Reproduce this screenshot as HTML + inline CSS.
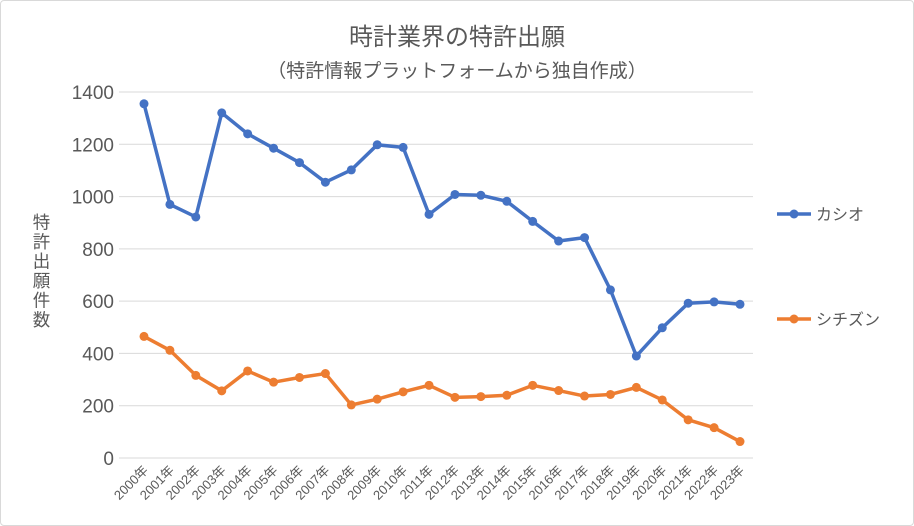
<!DOCTYPE html>
<html><head><meta charset="utf-8">
<style>
body{margin:0;background:#fff;}
#wrap{position:relative;width:912px;height:524px;border:1px solid #d9d9d9;border-radius:4px;overflow:hidden;font-family:"Liberation Sans","Noto Sans CJK JP",sans-serif;}
</style></head>
<body>
<div id="wrap">
<svg id="chart" width="912" height="524"></svg>
</div>
<script>
const years=["2000年","2001年","2002年","2003年","2004年","2005年","2006年","2007年","2008年","2009年","2010年","2011年","2012年","2013年","2014年","2015年","2016年","2017年","2018年","2019年","2020年","2021年","2022年","2023年"];
const casio=[1355,970,922,1320,1240,1185,1130,1055,1102,1198,1188,932,1008,1005,982,905,830,843,643,390,498,592,597,588];
const citizen=[465,412,316,257,333,290,308,323,203,225,253,278,232,235,240,278,258,237,243,270,222,146,116,63];
const yTicks=[0,200,400,600,800,1000,1200,1400];
const seriesNames=["カシオ","シチズン"];

const NS="http://www.w3.org/2000/svg";
const svg=document.getElementById('chart');
const x0=143,x1=739,yBase=457,yTop=91,yMax=1400,plotL=118,plotR=752;
const xs=i=>x0+(x1-x0)*i/(years.length-1);
const ys=v=>yBase-(yBase-yTop)*v/yMax;
function mk(tag,attrs,parent){const e=document.createElementNS(NS,tag);for(const k in attrs)e.setAttribute(k,attrs[k]);(parent||svg).appendChild(e);return e;}

let t=mk('text',{x:456,y:44,'text-anchor':'middle','font-size':24,fill:'#595959'});t.textContent='時計業界の特許出願';


t=mk('text',{x:456,y:76,'text-anchor':'middle','font-size':19,fill:'#595959'});t.textContent='（特許情報プラットフォームから独自作成）';



yTicks.forEach(v=>{
  const g=mk('line',{x1:plotL,x2:plotR,y1:ys(v),y2:ys(v),stroke:'#d9d9d9','stroke-width':1});
  
  
  const l=mk('text',{x:113,y:ys(v)+7,'text-anchor':'end','font-size':19,fill:'#595959'});l.textContent=v;
  
  
});
years.forEach((y,i)=>{
  const l=mk('text',{x:0,y:0,'text-anchor':'end','font-size':13,fill:'#595959',transform:`translate(${xs(i)+5},${yBase+13}) rotate(-45)`});l.textContent=y;
  
  
});
const yt=mk('text',{x:40,y:212,'font-size':17.5,fill:'#595959','writing-mode':'tb','letter-spacing':'2'});yt.textContent='特許出願件数';



const colors=['#4472c4','#ed7d31'];
[casio,citizen].forEach((data,si)=>{
  const pts=data.map((v,i)=>xs(i)+','+ys(v)).join(' ');
  const pl=mk('polyline',{points:pts,fill:'none',stroke:colors[si],'stroke-width':3.5,'stroke-linejoin':'round'});
  
  
  data.forEach((v,i)=>{
    const c=mk('circle',{cx:xs(i),cy:ys(v),r:4.5,fill:colors[si]});
    
    
  });
  const ly=si?318:213;
  const ll=mk('line',{x1:776,x2:810,y1:ly,y2:ly,stroke:colors[si],'stroke-width':3.5});
  
  
  const lc=mk('circle',{cx:793,cy:ly,r:4.5,fill:colors[si]});
  
  
  const lt=mk('text',{x:815,y:ly+6,'font-size':16,fill:'#595959'});lt.textContent=seriesNames[si];
  
  
});
</script>
</body></html>
